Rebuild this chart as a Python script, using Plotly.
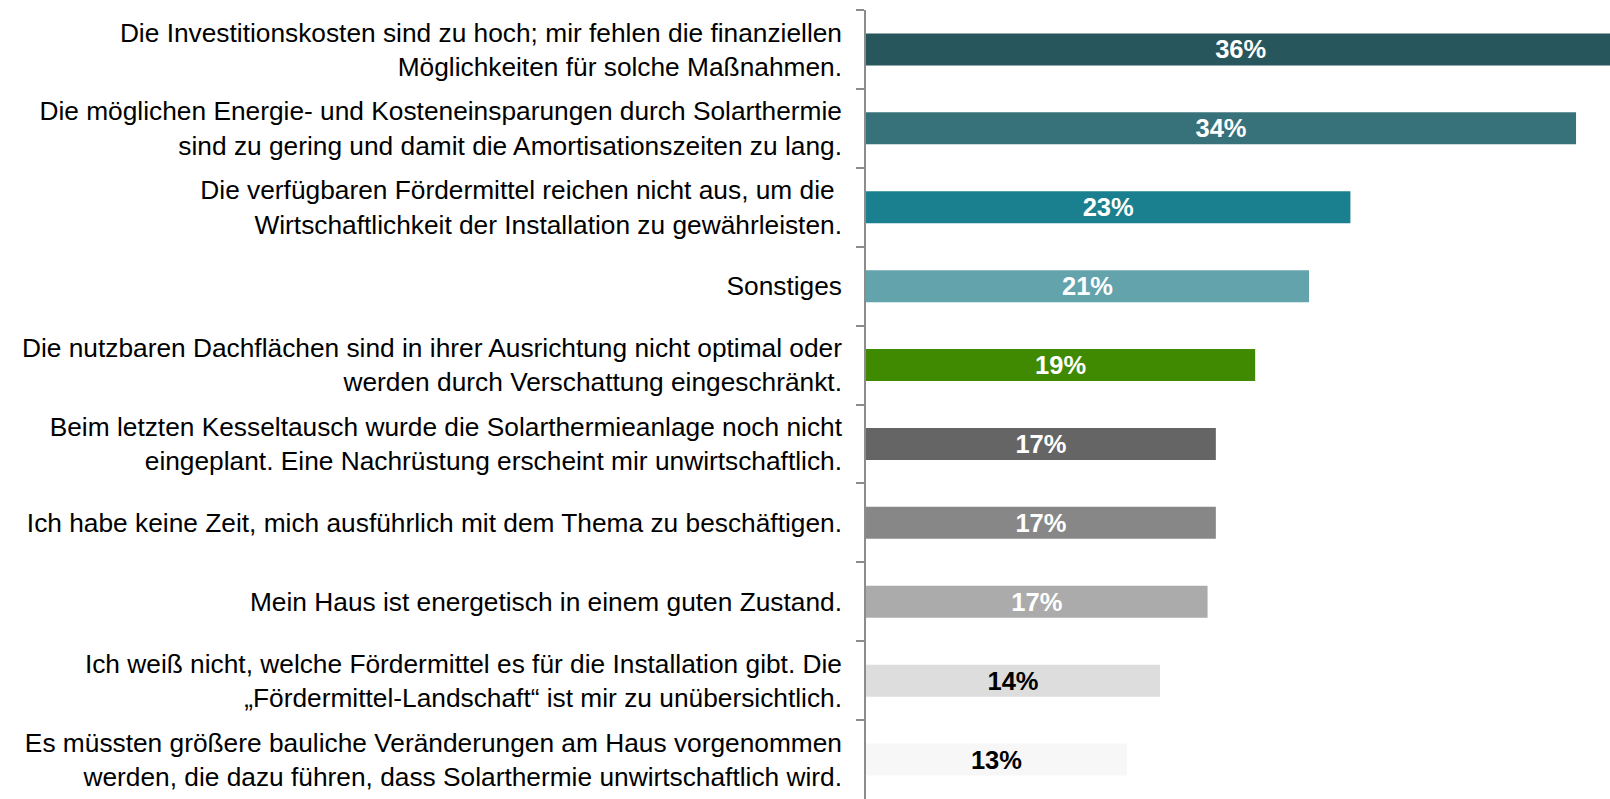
import plotly.graph_objects as go

categories = [
    "Die Investitionskosten sind zu hoch; mir fehlen die finanziellen<br>Möglichkeiten für solche Maßnahmen.",
    "Die möglichen Energie- und Kosteneinsparungen durch Solarthermie<br>sind zu gering und damit die Amortisationszeiten zu lang.",
    "Die verfügbaren Fördermittel reichen nicht aus, um die <br>Wirtschaftlichkeit der Installation zu gewährleisten.",
    "Sonstiges",
    "Die nutzbaren Dachflächen sind in ihrer Ausrichtung nicht optimal oder<br>werden durch Verschattung eingeschränkt.",
    "Beim letzten Kesseltausch wurde die Solarthermieanlage noch nicht<br>eingeplant. Eine Nachrüstung erscheint mir unwirtschaftlich.",
    "Ich habe keine Zeit, mich ausführlich mit dem Thema zu beschäftigen.",
    "Mein Haus ist energetisch in einem guten Zustand.",
    "Ich weiß nicht, welche Fördermittel es für die Installation gibt. Die<br>„Fördermittel-Landschaft“ ist mir zu unübersichtlich.",
    "Es müssten größere bauliche Veränderungen am Haus vorgenommen<br>werden, die dazu führen, dass Solarthermie unwirtschaftlich wird.",
]
values = [36.2, 34.3, 23.4, 21.4, 18.8, 16.9, 16.9, 16.5, 14.2, 12.6]
value_labels = ["36%", "34%", "23%", "21%", "19%", "17%", "17%", "17%", "14%", "13%"]
colors = ["#27575C", "#37727A", "#1A7F8E", "#62A3AC", "#3F8A00",
          "#656565", "#878787", "#ABABAB", "#DDDDDD", "#F7F7F7"]
text_colors = ["white"] * 8 + ["black"] * 2

fig = go.Figure(go.Bar(
    x=values,
    y=categories,
    orientation="h",
    marker=dict(color=colors, line=dict(width=0)),
    text=value_labels,
    textposition="inside",
    insidetextanchor="middle",
    constraintext="none",
    textangle=0,
    insidetextfont=dict(family="Liberation Sans, Arial, sans-serif", size=25.5,
                        color=text_colors, weight="bold"),
    cliponaxis=True,
    hoverinfo="skip",
))

fig.update_layout(
    width=1610,
    height=799,
    margin=dict(l=866, r=0, t=10, b=0, autoexpand=False),
    paper_bgcolor="white",
    plot_bgcolor="white",
    bargap=0.595,
    showlegend=False,
    uniformtext=dict(mode=False),
    font=dict(family="Liberation Sans, Arial, sans-serif", size=26.3, color="black"),
)
fig.update_xaxes(range=[0, 35.94], visible=False, showgrid=False, zeroline=False,
                 automargin=False)
fig.update_yaxes(
    autorange="reversed",
    automargin=False,
    showline=True, linecolor="#8C8C8C", linewidth=1.5,
    ticks="outside", tickson="boundaries", ticklen=8, tickcolor="#8C8C8C", tickwidth=1.5,
    showgrid=False, zeroline=False,
    tickfont=dict(family="Liberation Sans, Arial, sans-serif", size=26.3, color="black"),
    ticklabelstandoff=17,
)

fig.write_html(
    "out.html",
    config={"displayModeBar": False},
    post_script="document.body.style.margin='0';document.body.style.overflow='hidden';",
)
